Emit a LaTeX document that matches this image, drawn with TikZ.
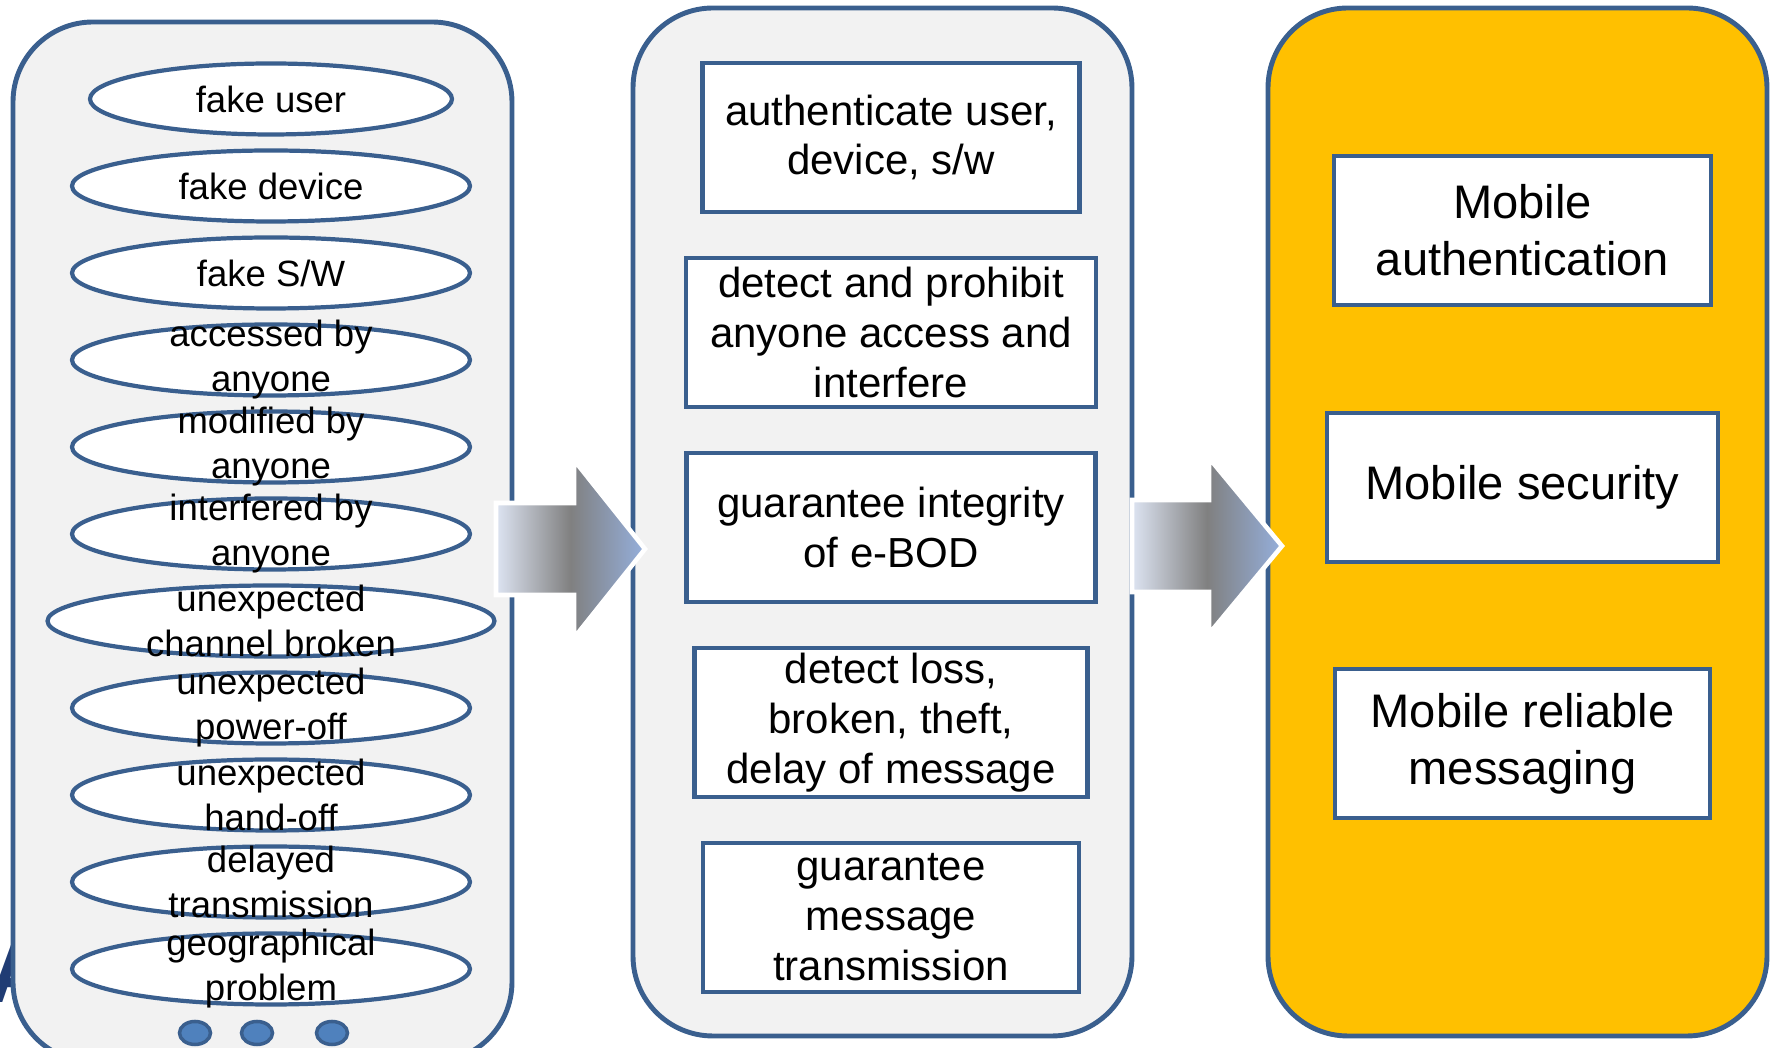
\documentclass[tikz,border=0pt]{standalone}
\usepackage{fontspec}
\setmainfont{Liberation Sans}
\usepackage{xcolor}
\usepackage{tikz}
\usetikzlibrary{positioning,shapes.geometric}
\definecolor{frameblue}{HTML}{3A5F8E}
\definecolor{panelgray}{HTML}{F2F2F2}
\definecolor{goldfill}{HTML}{FFC000}
\definecolor{bubbleblue}{HTML}{4F81BD}
\definecolor{arrowlight}{HTML}{DDE4F2}
\definecolor{arrowgray}{HTML}{808080}
\definecolor{arrowblue}{HTML}{95AFDC}
\definecolor{navy}{HTML}{203C74}

\begin{document}
\begin{tikzpicture}[node distance=0.16cm,
        panel/.style={draw=frameblue, line width=1.4pt, rounded corners=0.8cm, minimum width=4.99cm},
        threat/.style={ellipse, draw=frameblue, fill=white, line width=1.2pt, inner sep=0pt, outer sep=0pt, minimum height=0.71cm, minimum width=3.98cm},
        etext/.style={align=center, inner sep=0pt, font=\fontsize{10.4pt}{12.8pt}\selectfont},
        goal/.style={draw=frameblue, fill=white, line width=1.2pt, inner sep=0pt, outer sep=0pt, minimum height=1.49cm, align=center, font=\fontsize{11.95pt}{14.2pt}\selectfont},
        mobile/.style={draw=frameblue, fill=white, line width=1.2pt, inner sep=0pt, outer sep=0pt, minimum height=1.49cm, align=center, font=\fontsize{13.4pt}{16.2pt}\selectfont},
        morebubble/.style={ellipse, draw=frameblue, fill=bubbleblue, line width=1pt, inner sep=0pt, minimum width=0.31cm, minimum height=0.23cm},
        bigarrow/.style={draw=white, line width=1.3pt, left color=arrowlight, right color=arrowblue, middle color=arrowgray}]
    \useasboundingbox (0,0) rectangle (17.71,10.48);

    \node[anchor=base west, text=navy, font=\fontsize{24pt}{28pt}\selectfont\bfseries, inner sep=0pt] (frag) at (-0.12,0.45) {A};

    % three panels
    \node[panel, fill=panelgray, minimum height=10.40cm] (threats) at (2.625,5.06) {};
    \node[panel, fill=panelgray, minimum height=10.28cm] (goals) at (8.825,5.26) {};
    \node[panel, fill=goldfill, minimum height=10.28cm] (results) at (15.175,5.26) {};

    % threats
    \node[threat, minimum width=3.62cm] (e1) at (2.71,9.49) {};
    \node[threat, below=of e1] (e2) {};
    \node[threat, below=of e2] (e3) {};
    \node[threat, below=of e3] (e4) {};
    \node[threat, below=of e4] (e5) {};
    \node[threat, below=of e5] (e6) {};
    \node[threat, below=of e6, minimum width=4.47cm] (e7) {};
    \node[threat, below=of e7] (e8) {};
    \node[threat, below=of e8] (e9) {};
    \node[threat, below=of e9] (e10) {};
    \node[threat, below=of e10] (e11) {};

    \node[etext] (t1) at (e1) {fake user};
    \node[etext] (t2) at (e2) {fake device};
    \node[etext] (t3) at (e3) {fake S/W};
    \node[etext] (t4) at (e4) {accessed by\\anyone};
    \node[etext] (t5) at (e5) {modified by\\anyone};
    \node[etext] (t6) at (e6) {interfered by\\anyone};
    \node[etext] (t7) at (e7) {unexpected\\channel broken};
    \node[etext] (t8) at (e8) {unexpected\\power-off};
    \node[etext] (t9) at (e9) {unexpected\\hand-off};
    \node[etext] (t10) at (e10) {delayed\\transmission};
    \node[etext] (t11) at (e11) {geographical\\problem};

    \node[morebubble] (d1) at (1.95,0.15) {};
    \node[morebubble] (d2) at (2.57,0.15) {};
    \node[morebubble] (d3) at (3.32,0.15) {};

    % countermeasures
    \node[goal, minimum width=3.77cm] (g1) at (8.91,9.105) {authenticate user,\\device, s/w};
    \node[goal, minimum width=4.10cm, below=0.46cm of g1] (g2) {detect and prohibit\\anyone access and\\interfere};
    \node[goal, minimum width=4.09cm, below=0.46cm of g2] (g3) {guarantee integrity\\of e-BOD};
    \node[goal, minimum width=3.93cm, below=0.46cm of g3] (g4) {detect loss,\\broken, theft,\\delay of message};
    \node[goal, minimum width=3.76cm, below=0.46cm of g4] (g5) {guarantee\\message\\transmission};

    % services
    \node[mobile, minimum width=3.77cm] (m1) at (15.225,8.175) {Mobile\\authentication};
    \node[mobile, minimum width=3.91cm, below=1.08cm of m1] (m2) {Mobile security};
    \node[mobile, minimum width=3.75cm, below=1.07cm of m2] (m3) {Mobile reliable\\messaging};

    % block arrows
    \coordinate (arrA) at (4.96,4.99);
    \coordinate (arrB) at (11.32,5.02);
    \path[bigarrow] (arrA) ++(0,0.46) -- ++(0.78,0) -- ++(0,0.43) -- ++(0.71,-0.89) -- ++(-0.71,-0.89) -- ++(0,0.43) -- ++(-0.78,0) -- cycle;
    \path[bigarrow] (arrB) ++(0,0.46) -- ++(0.77,0) -- ++(0,0.42) -- ++(0.73,-0.88) -- ++(-0.73,-0.88) -- ++(0,0.42) -- ++(-0.77,0) -- cycle;
\end{tikzpicture}
\end{document}
